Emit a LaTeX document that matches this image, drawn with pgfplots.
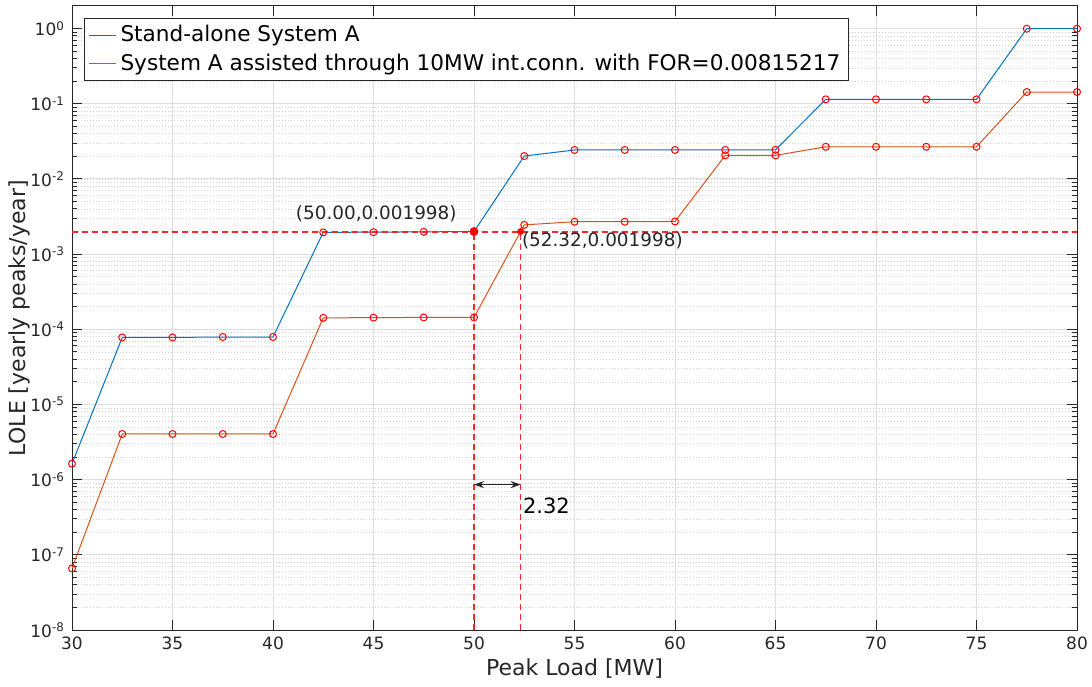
\documentclass[border=0pt]{standalone}
\usepackage{fontspec}
\setmainfont{DejaVu Sans}
\usepackage{pgfplots}
\pgfplotsset{compat=1.18}
\usepackage{pgfplotstable}
\usetikzlibrary{arrows.meta}

\definecolor{mblue}{rgb}{0,0.447,0.741}
\definecolor{morange}{rgb}{0.85,0.325,0.098}
\definecolor{axgray}{rgb}{0.15,0.15,0.15}
\definecolor{dred}{rgb}{1,0.15,0.15}

% peak load [MW], LOLE stand-alone, LOLE assisted
\pgfplotstableread{
x     sa        as
30    1.63e-6   6.6e-8
32.5  7.8e-5    4.05e-6
35    7.8e-5    4.05e-6
37.5  7.9e-5    4.05e-6
40    7.9e-5    4.05e-6
42.5  1.95e-3   1.42e-4
45    1.96e-3   1.43e-4
47.5  1.98e-3   1.44e-4
50    1.998e-3  1.44e-4
52.5  0.0202    2.45e-3
55    0.0243    2.7e-3
57.5  0.0243    2.7e-3
60    0.0243    2.72e-3
62.5  0.0243    0.0206
65    0.0244    0.0206
67.5  0.1146    0.0268
70    0.1146    0.0268
72.5  0.1146    0.0268
75    0.1146    0.0268
77.5  0.997     0.1435
80    0.997     0.1435
}\lole

\begin{document}
\begin{tikzpicture}
\begin{semilogyaxis}[
  scale only axis, width=502.5pt, height=312pt,
  xmin=30, xmax=80, ymin=1e-8, ymax=2,
  xtick={30,35,40,45,50,55,60,65,70,75,80},
  ytick={1e-8,1e-7,1e-6,1e-5,1e-4,1e-3,1e-2,1e-1,1},
  yticklabels={10\textsuperscript{-8},10\textsuperscript{-7},10\textsuperscript{-6},10\textsuperscript{-5},10\textsuperscript{-4},10\textsuperscript{-3},10\textsuperscript{-2},10\textsuperscript{-1},10\textsuperscript{0}},
  /pgf/number format/assume math mode=true,
  tick label style={font=\fontsize{8.5}{10}\selectfont, text=axgray},
  axis line style={axgray, line width=0.5pt},
  tick style={axgray, line width=0.5pt},
  major tick length=5pt, minor tick length=2.5pt,
  xmajorgrids, ymajorgrids, yminorgrids,
  major grid style={black!13, line width=0.5pt},
  minor grid style={black!18, dash pattern=on 0.4pt off 1.1pt, line width=0.35pt},
  xlabel={Peak Load [MW]},
  ylabel={LOLE [yearly peaks/year]},
  label style={font=\fontsize{11}{13}\selectfont, text=axgray},
  xlabel style={at={(axis description cs:0.5,-0.062)}, anchor=center},
  ylabel style={at={(axis description cs:-0.052,0.5)}, anchor=center},
  legend style={at={(0,1)}, anchor=north west, xshift=6pt, yshift=-6pt,
    font=\fontsize{10.8}{13}\selectfont, draw=axgray, line width=0.5pt,
    inner xsep=2pt, inner ysep=1.5pt, row sep=0.5pt},
  legend cell align=left,
  legend image code/.code={\draw[#1, line width=0.5pt] (0pt,0pt) -- (13.5pt,0pt);},
]
\addplot[mblue, line width=0.5pt] table[x=x, y=sa] {\lole};
\addlegendentry{Stand-alone System A}
\addplot[morange, line width=0.5pt] table[x=x, y=as] {\lole};
\addlegendentry{System A assisted through 10MW int.conn. with FOR=0.00815217}

\addplot[color=dred, dash pattern=on 3pt off 2pt, line width=1pt, forget plot] coordinates {(30,0.001998) (80,0.001998)};
\addplot[dred, dash pattern=on 3pt off 2pt, line width=0.55pt, forget plot] coordinates {(50,1e-8) (50,0.001998)};
\addplot[dred, dash pattern=on 3pt off 2pt, line width=0.55pt, forget plot] coordinates {(52.32,1e-8) (52.32,0.001998)};

\addplot[only marks, mark=o, mark size=1.75pt, red, mark options={line width=0.5pt}, forget plot] table[x=x, y=sa] {\lole};
\addplot[only marks, mark=o, mark size=1.75pt, red, mark options={line width=0.5pt}, forget plot] table[x=x, y=as] {\lole};

\addplot[only marks, mark=*, mark size=2pt, red, forget plot] coordinates {(50,0.001998)};
\addplot[only marks, mark=*, mark size=1.5pt, red, forget plot] coordinates {(52.32,0.001998)};

\node[anchor=south east, inner sep=0pt, xshift=-8.5pt, yshift=4.5pt, font=\fontsize{9.2}{11}\selectfont, text=axgray] at (axis cs:50,0.001998) {(50.00,0.001998)};
\node[anchor=north west, inner sep=0pt, xshift=0.5pt, yshift=-0.5pt, font=\fontsize{9.2}{11}\selectfont, text=axgray] at (axis cs:52.32,0.001998) {(52.32,0.001998)};

\draw[{Stealth[length=5pt,width=3.5pt]}-{Stealth[length=5pt,width=3.5pt]}, axgray, line width=0.5pt] (axis cs:50,8.6e-7) -- (axis cs:52.32,8.6e-7);
\node[anchor=north west, inner sep=0pt, xshift=1pt, yshift=-6.5pt, font=\fontsize{10.5}{12}\selectfont, text=black] at (axis cs:52.32,8.6e-7) {2.32};
\end{semilogyaxis}
\pgfresetboundingbox
\path ([shift={(-36pt,-28.5pt)}]current axis.south west) rectangle ([shift={(7.5pt,3pt)}]current axis.north east);
\end{tikzpicture}
\end{document}
